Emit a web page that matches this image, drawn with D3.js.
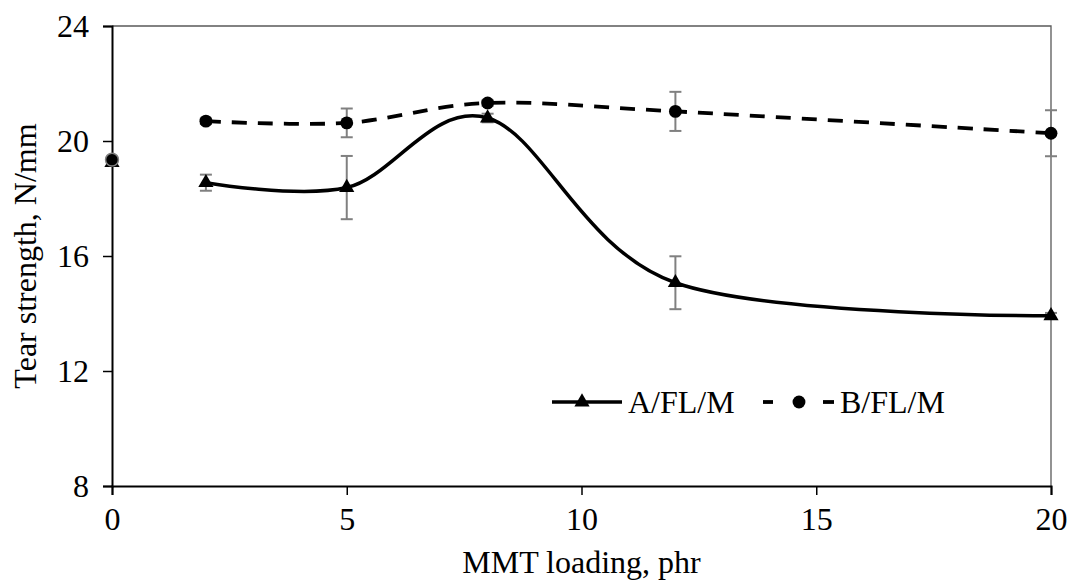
<!DOCTYPE html>
<html>
<head>
<meta charset="utf-8">
<script src="https://cdn.jsdelivr.net/npm/d3@7"></script>
<style>
  body { margin: 0; background: #fff; }
  text { font-family: "Liberation Serif", "Times New Roman", serif; fill: #000; }
</style>
</head>
<body>
<div id="chart"></div>
<script>
// data
var loading = [0, 2, 5, 8, 12, 20];
var seriesA = [19.25, 18.55, 18.38, 20.8, 15.07, 13.92];   // A/FL/M
var errA    = [0.1, 0.28, 1.1, 0.15, 0.92, 0.1];
var seriesB = [19.35, 20.69, 20.63, 21.32, 21.03, 20.27];  // B/FL/M
var errB    = [0.1, 0.1, 0.5, 0.1, 0.68, 0.8];
var xTicks = [0, 5, 10, 15, 20];
var yTicks = [8, 12, 16, 20, 24];
var names = ["A/FL/M", "B/FL/M"];

var W = 1070, H = 581;
var margin = {top: 26, right: 19, bottom: 95, left: 112};
var width = W - margin.left - margin.right;
var height = H - margin.top - margin.bottom;

var svg = d3.select("#chart").append("svg")
    .attr("width", W)
    .attr("height", H)
  .append("g")
    .attr("transform", "translate(" + margin.left + "," + margin.top + ")");

var x = d3.scaleLinear().domain([0, 20]).range([0, width]);
var y = d3.scaleLinear().domain([8, 24]).range([height, 0]);

// plot area border (top + right)
svg.append("path")
    .attr("d", "M0,0H" + width + "V" + height)
    .attr("fill", "none")
    .attr("stroke", "#595959")
    .attr("stroke-width", 1.3);

// axes
var xAxis = svg.append("g")
    .attr("transform", "translate(0," + height + ")")
    .call(d3.axisBottom(x).tickValues(xTicks).tickSize(9).tickPadding(12));
var yAxis = svg.append("g")
    .call(d3.axisLeft(y).tickValues(yTicks).tickSize(9).tickPadding(14));

[xAxis, yAxis].forEach(function(a) {
    a.select(".domain").attr("stroke", "#000").attr("stroke-width", 2);
    a.selectAll(".tick line").attr("stroke", "#000").attr("stroke-width", 1.5);
    a.selectAll(".tick text")
        .style("font-family", "'Liberation Serif', serif")
        .style("font-size", "32px")
        .attr("fill", "#000");
});

// axis titles
svg.append("text")
    .attr("x", width / 2)
    .attr("y", height + 87)
    .attr("text-anchor", "middle")
    .style("font-size", "32px")
    .text("MMT loading, phr");

svg.append("text")
    .attr("transform", "translate(" + (-76) + "," + (height / 2) + ")rotate(-90)")
    .attr("text-anchor", "middle")
    .style("font-size", "32px")
    .text("Tear strength, N/mm");

// error bars
function errorBars(vals, errs) {
    var g = svg.append("g").attr("stroke", "#808080").attr("stroke-width", 2);
    loading.forEach(function(d, i) {
        var cx = x(d), y0 = y(vals[i] - errs[i]), y1 = y(vals[i] + errs[i]);
        g.append("line").attr("x1", cx).attr("x2", cx).attr("y1", y0).attr("y2", y1);
        g.append("line").attr("x1", cx - 6).attr("x2", cx + 6).attr("y1", y0).attr("y2", y0);
        g.append("line").attr("x1", cx - 6).attr("x2", cx + 6).attr("y1", y1).attr("y2", y1);
    });
}
errorBars(seriesA, errA);
errorBars(seriesB, errB);

// smoothed lines start at 2 phr (control point at 0 is not joined)
var line = d3.line()
    .x(function(d) { return x(d[0]); })
    .y(function(d) { return y(d[1]); })
    .curve(d3.curveCatmullRom.alpha(0));

var ptsA = loading.map(function(d, i) { return [d, seriesA[i]]; });
var ptsB = loading.map(function(d, i) { return [d, seriesB[i]]; });

svg.append("path")
    .datum(ptsA.slice(1))
    .attr("d", line)
    .attr("fill", "none")
    .attr("stroke", "#000")
    .attr("stroke-width", 3.5);

svg.append("path")
    .datum(ptsB.slice(1))
    .attr("d", line)
    .attr("fill", "none")
    .attr("stroke", "#000")
    .attr("stroke-width", 3.8)
    .attr("stroke-dasharray", "15,11");

// markers
var tri = d3.symbol().type(d3.symbolTriangle).size(100);
var dot = d3.symbol().type(d3.symbolCircle).size(130);

svg.append("g").selectAll("path")
    .data(ptsA)
    .enter().append("path")
    .attr("d", tri)
    .attr("transform", function(d) { return "translate(" + x(d[0]) + "," + y(d[1]) + ")"; })
    .attr("fill", "#000");

svg.append("g").selectAll("path")
    .data(ptsB)
    .enter().append("path")
    .attr("d", dot)
    .attr("transform", function(d) { return "translate(" + x(d[0]) + "," + y(d[1]) + ")"; })
    .attr("fill", "#000")
    .attr("stroke", function(d) { return d[0] === 0 ? "#808080" : "none"; })
    .attr("stroke-width", 1.5);

// legend
var lg = svg.append("g").attr("transform", "translate(0," + (y(12) + 31) + ")");
lg.append("line").attr("x1", 440).attr("x2", 510).attr("stroke", "#000").attr("stroke-width", 3.5);
lg.append("path").attr("d", tri).attr("transform", "translate(470,0)");
lg.append("text").attr("x", 516).attr("y", 11).style("font-size", "32px").text(names[0]);

lg.append("line").attr("x1", 651).attr("x2", 661).attr("stroke", "#000").attr("stroke-width", 3.8);
lg.append("line").attr("x1", 711).attr("x2", 722).attr("stroke", "#000").attr("stroke-width", 3.8);
lg.append("path").attr("d", dot).attr("transform", "translate(687,0)");
lg.append("text").attr("x", 728).attr("y", 11).style("font-size", "32px").text(names[1]);
</script>
</body>
</html>
